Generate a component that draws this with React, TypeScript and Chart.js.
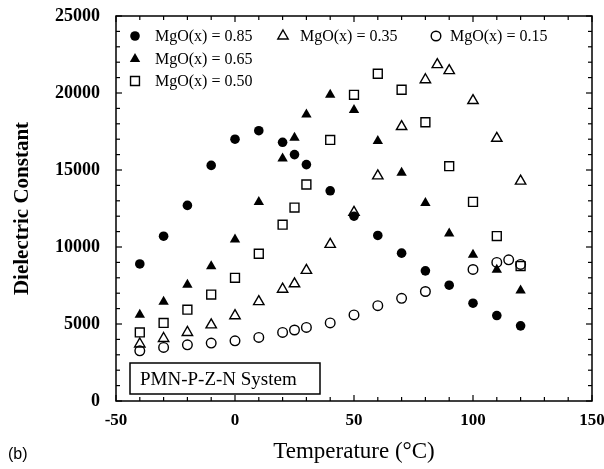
import React, { useEffect, useRef } from "react";
import { Chart, registerables } from "chart.js";

Chart.register(...registerables);

const temps085 = [-40, -30, -20, -10, 0, 10, 20, 25, 30, 40, 50, 60, 70, 80, 90, 100, 110, 120];
const vals085 = [8900, 10700, 12700, 15300, 17000, 17550, 16800, 16000, 15350, 13650, 12000, 10750, 9600, 8450, 7520, 6350, 5550, 4880];

const temps065 = [-40, -30, -20, -10, 0, 10, 20, 25, 30, 40, 50, 60, 70, 80, 90, 100, 110, 120];
const vals065 = [5600, 6450, 7550, 8750, 10480, 12930, 15750, 17100, 18600, 19880, 18900, 16880, 14820, 12860, 10870, 9500, 8520, 7170];

const temps050 = [-40, -30, -20, -10, 0, 10, 20, 25, 30, 40, 50, 60, 70, 80, 90, 100, 110, 120];
const vals050 = [4450, 5070, 5930, 6910, 8000, 9560, 11450, 12560, 14060, 16950, 19880, 21250, 20210, 18100, 15250, 12930, 10710, 8760];

const temps035 = [-40, -30, -20, -10, 0, 10, 20, 25, 30, 40, 50, 60, 70, 80, 85, 90, 100, 110, 120];
const vals035 = [3700, 4060, 4450, 4940, 5540, 6450, 7260, 7610, 8480, 10170, 12250, 14620, 17820, 20860, 21840, 21450, 19510, 17060, 14280];

const temps015 = [-40, -30, -20, -10, 0, 10, 20, 25, 30, 40, 50, 60, 70, 80, 100, 110, 115, 120];
const vals015 = [3260, 3480, 3650, 3760, 3910, 4130, 4450, 4610, 4780, 5070, 5590, 6190, 6670, 7110, 8540, 9000, 9170, 8870];

const seriesLabels = ["MgO(x) = 0.85", "MgO(x) = 0.65", "MgO(x) = 0.50", "MgO(x) = 0.35", "MgO(x) = 0.15"];
const xTicks = [-50, 0, 50, 100, 150];
const yTicks = [0, 5000, 10000, 15000, 20000, 25000];
const xMinorStep = 10;
const yMinorStep = 1000;
const boxLabel = "PMN-P-Z-N System";
const panelLabel = "(b)";
const xTitle = "Temperature (\u00B0C)";
const yTitle = "Dielectric Constant";

const toPts = (xs: number[], ys: number[]) => xs.map((x, i) => ({ x, y: ys[i] }));

type Mk = { style: string; filled: boolean };
const markers: Mk[] = [
  { style: "circle", filled: true },
  { style: "triangle", filled: true },
  { style: "rect", filled: false },
  { style: "triangle", filled: false },
  { style: "circle", filled: false },
];
const markerRadius: Record<string, number> = { circle: 4.8, triangle: 6, rect: 6.3 };

function drawMarker(ctx: CanvasRenderingContext2D, m: Mk, x: number, y: number) {
  const r = markerRadius[m.style];
  ctx.beginPath();
  if (m.style === "circle") {
    ctx.arc(x, y, r, 0, Math.PI * 2);
  } else if (m.style === "triangle") {
    for (let k = 0; k < 3; k++) {
      const a = -Math.PI / 2 + (k * 2 * Math.PI) / 3;
      const px = x + r * Math.cos(a);
      const py = y + r * Math.sin(a);
      if (k === 0) ctx.moveTo(px, py);
      else ctx.lineTo(px, py);
    }
    ctx.closePath();
  } else {
    const s = r * Math.SQRT1_2;
    ctx.rect(x - s, y - s, 2 * s, 2 * s);
  }
  if (m.filled) {
    ctx.fillStyle = "#000";
    ctx.fill();
  } else {
    ctx.fillStyle = "#fff";
    ctx.fill();
    ctx.lineWidth = 1.4;
    ctx.strokeStyle = "#000";
    ctx.stroke();
  }
}

const decorPlugin = {
  id: "decor",
  afterDraw(chart: any) {
    const { ctx, chartArea, scales } = chart;
    const { left, right, top, bottom } = chartArea;
    const xs = scales.x;
    const ys = scales.y;
    ctx.save();
    ctx.strokeStyle = "#000";
    ctx.lineWidth = 1.5;
    ctx.strokeRect(left, top, right - left, bottom - top);
    ctx.lineWidth = 1.2;
    const line = (a: number, b: number, c: number, d: number) => {
      ctx.beginPath();
      ctx.moveTo(a, b);
      ctx.lineTo(c, d);
      ctx.stroke();
    };
    for (let v = xs.min; v <= xs.max; v += xMinorStep) {
      const px = xs.getPixelForValue(v);
      const len = xTicks.includes(v) ? 6 : 4;
      line(px, bottom, px, bottom - len);
      line(px, top, px, top + len);
    }
    for (let v = ys.min; v <= ys.max; v += yMinorStep) {
      const py = ys.getPixelForValue(v);
      const len = yTicks.includes(v) ? 6 : 4;
      line(left, py, left + len, py);
      line(right, py, right - len, py);
    }

    // legend
    const legendPos = [
      { dx: 19, dy: 20, tx: 39 },
      { dx: 19, dy: 43, tx: 39 },
      { dx: 19, dy: 65, tx: 39 },
      { dx: 167, dy: 20, tx: 184 },
      { dx: 320, dy: 20, tx: 334 },
    ];
    ctx.font = "16px 'Liberation Serif'";
    ctx.textBaseline = "middle";
    ctx.textAlign = "left";
    seriesLabels.forEach((lab, i) => {
      const p = legendPos[i];
      drawMarker(ctx, markers[i], left + p.dx, top + p.dy);
      ctx.fillStyle = "#000";
      ctx.fillText(lab, left + p.tx, top + p.dy + 1);
    });

    // box
    ctx.lineWidth = 1.5;
    ctx.strokeStyle = "#000";
    ctx.strokeRect(left + 14, bottom - 38, 190, 31);
    ctx.font = "19px 'Liberation Serif'";
    ctx.fillStyle = "#000";
    ctx.textBaseline = "alphabetic";
    ctx.fillText(boxLabel, left + 24, bottom - 16);

    // panel label
    ctx.font = "16px 'Liberation Sans'";
    ctx.fillText(panelLabel, 8, 459);
    ctx.restore();
  },
};

export default function App() {
  const ref = useRef<HTMLCanvasElement | null>(null);
  useEffect(() => {
    document.body.style.margin = "0";
    const canvas = ref.current!;
    const allTemps = [temps085, temps065, temps050, temps035, temps015];
    const datasets = [vals085, vals065, vals050, vals035, vals015].map((vals, i) => {
      const m = markers[i];
      return {
        label: seriesLabels[i],
        data: toPts(allTemps[i], vals),
        pointStyle: m.style,
        pointRadius: markerRadius[m.style],
        pointHoverRadius: markerRadius[m.style],
        backgroundColor: m.filled ? "#000" : "rgba(255,255,255,0)",
        borderColor: "#000",
        pointBorderWidth: m.filled ? 0 : 1.4,
        borderWidth: m.filled ? 0 : 1.4,
        showLine: false,
      };
    });
    const chart = new Chart(canvas, {
      type: "scatter",
      data: { datasets: datasets as any },
      options: {
        animation: false,
        responsive: false,
        layout: { padding: { left: 0, top: 16, right: 12, bottom: 0 } },
        plugins: { legend: { display: false }, tooltip: { enabled: false } },
        scales: {
          x: {
            type: "linear",
            min: -50,
            max: 150,
            afterBuildTicks: (s: any) => {
              s.ticks = xTicks.map((v) => ({ value: v }));
            },
            afterFit: (s: any) => {
              s.height = 68;
              s.paddingLeft = 0;
              s.paddingRight = 0;
            },
            grid: { display: false, drawTicks: false },
            border: { display: false },
            ticks: {
              padding: 9,
              color: "#000",
              font: { family: "'Liberation Serif'", size: 17, weight: "bold" },
              callback: (v: any) => String(v),
            },
            title: {
              display: true,
              text: xTitle,
              color: "#000",
              font: { family: "'Liberation Serif'", size: 23 },
              padding: { top: 0, bottom: 3 },
            },
          },
          y: {
            type: "linear",
            min: 0,
            max: 25000,
            afterBuildTicks: (s: any) => {
              s.ticks = yTicks.map((v) => ({ value: v }));
            },
            afterFit: (s: any) => {
              s.width = 116;
              s.paddingTop = 0;
              s.paddingBottom = 0;
            },
            grid: { display: false, drawTicks: false },
            border: { display: false },
            ticks: {
              padding: 16,
              color: "#000",
              font: { family: "'Liberation Serif'", size: 18, weight: "bold" },
              callback: (v: any) => String(v),
            },
            title: {
              display: true,
              text: yTitle,
              color: "#000",
              font: { family: "'Liberation Serif'", size: 21, weight: "bold" },
              padding: { top: 10, bottom: 0 },
            },
          },
        },
      },
      plugins: [decorPlugin],
    });
    return () => chart.destroy();
  }, []);
  return (
    <div style={{ width: 604, height: 469, background: "#fff" }}>
      <canvas ref={ref} width={604} height={469} style={{ display: "block" }} />
    </div>
  );
}
